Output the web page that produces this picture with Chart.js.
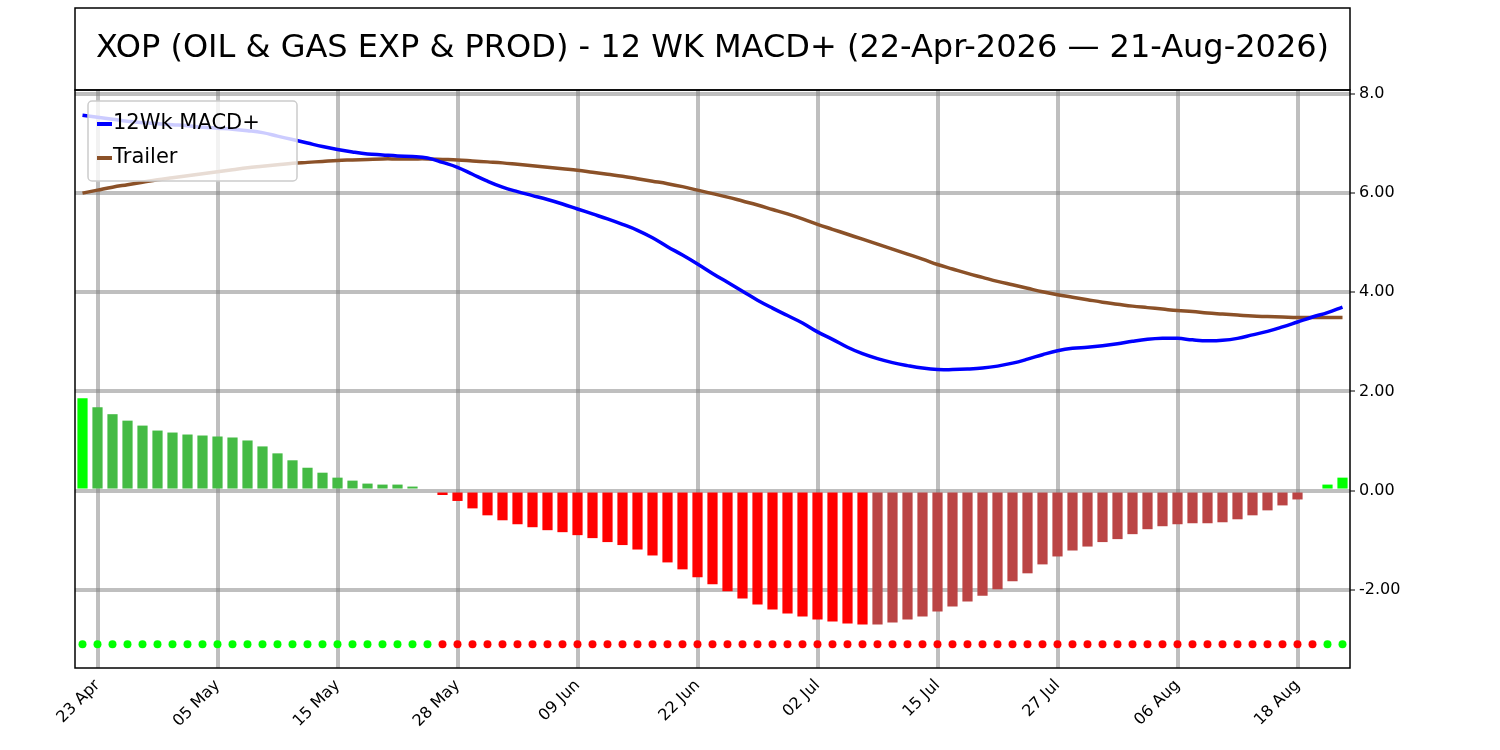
<!DOCTYPE html>
<html>
<head>
<meta charset="utf-8">
<script src="https://cdn.jsdelivr.net/npm/chart.js@4.4.1/dist/chart.umd.min.js"></script>
<style>
  html, body { margin: 0; padding: 0; background: #fff; }
  #wrap { width: 1500px; height: 750px; }
</style>
</head>
<body>
<div id="wrap"><canvas id="c"></canvas></div>
<script>
const title = 'XOP (OIL & GAS EXP & PROD) - 12 WK MACD+ (22-Apr-2026 \u2014 21-Aug-2026)';

const dates = [
  '22 Apr','23 Apr','24 Apr','27 Apr','28 Apr','29 Apr','30 Apr',
  '01 May','04 May','05 May','06 May','07 May','08 May','11 May','12 May','13 May','14 May','15 May',
  '18 May','19 May','20 May','21 May','22 May','26 May','27 May','28 May','29 May',
  '01 Jun','02 Jun','03 Jun','04 Jun','05 Jun','08 Jun','09 Jun','10 Jun','11 Jun','12 Jun',
  '15 Jun','16 Jun','17 Jun','18 Jun','22 Jun','23 Jun','24 Jun','25 Jun','26 Jun','29 Jun','30 Jun',
  '01 Jul','02 Jul','06 Jul','07 Jul','08 Jul','09 Jul','10 Jul','13 Jul','14 Jul','15 Jul','16 Jul',
  '17 Jul','20 Jul','21 Jul','22 Jul','23 Jul','24 Jul','27 Jul','28 Jul','29 Jul','30 Jul','31 Jul',
  '03 Aug','04 Aug','05 Aug','06 Aug','07 Aug','10 Aug','11 Aug','12 Aug','13 Aug','14 Aug',
  '17 Aug','18 Aug','19 Aug','20 Aug','21 Aug'
];

const macd = [
  7.57,7.53,7.49,7.45,7.42,7.40,7.38,7.36,7.33,7.31,7.29,7.26,7.22,7.15,7.08,7.01,6.94,6.88,
  6.83,6.79,6.77,6.75,6.74,6.71,6.62,6.52,6.38,6.24,6.12,6.03,5.95,5.87,5.78,5.68,5.58,5.48,
  5.37,5.25,5.10,4.92,4.75,4.57,4.38,4.20,4.02,3.84,3.68,3.53,3.38,3.20,3.05,2.89,2.76,2.66,
  2.58,2.52,2.47,2.44,2.44,2.45,2.47,2.51,2.57,2.65,2.74,2.82,2.87,2.89,2.92,2.96,3.01,3.05,
  3.07,3.07,3.04,3.02,3.03,3.07,3.14,3.21,3.30,3.40,3.50,3.59,3.70
];

const trailer = [
  6.00,6.06,6.12,6.17,6.22,6.27,6.31,6.35,6.39,6.43,6.47,6.51,6.54,6.57,6.60,6.62,6.64,6.66,
  6.67,6.68,6.69,6.69,6.69,6.69,6.68,6.67,6.65,6.63,6.61,6.58,6.55,6.52,6.49,6.46,6.42,6.38,
  6.34,6.29,6.24,6.19,6.13,6.06,5.99,5.92,5.84,5.76,5.67,5.58,5.48,5.37,5.27,5.17,5.07,4.97,
  4.87,4.77,4.67,4.56,4.47,4.38,4.30,4.22,4.15,4.08,4.01,3.95,3.90,3.85,3.80,3.76,3.72,3.69,
  3.66,3.63,3.61,3.58,3.56,3.54,3.52,3.51,3.50,3.49,3.49,3.49,3.49
];

const hist = [
  1.86,1.68,1.54,1.41,1.31,1.21,1.17,1.13,1.11,1.09,1.07,1.01,0.89,0.75,0.61,0.46,0.36,0.26,
  0.20,0.14,0.12,0.12,0.08,0.04,-0.09,-0.21,-0.36,-0.50,-0.60,-0.68,-0.74,-0.80,-0.84,-0.90,
  -0.96,-1.04,-1.10,-1.19,-1.31,-1.45,-1.59,-1.75,-1.89,-2.03,-2.18,-2.30,-2.40,-2.48,-2.54,
  -2.60,-2.64,-2.68,-2.70,-2.70,-2.66,-2.60,-2.54,-2.44,-2.34,-2.24,-2.12,-1.99,-1.83,-1.67,
  -1.49,-1.33,-1.21,-1.13,-1.04,-0.98,-0.88,-0.78,-0.72,-0.68,-0.66,-0.66,-0.64,-0.58,-0.50,
  -0.40,-0.30,-0.18,-0.04,0.12,0.26
];

// signal dots: 1 = bullish (green), 0 = bearish (red)
const signal = [
  1,1,1,1,1,1,1,1,1,1,1,1,1,1,1,1,1,1,1,1,1,1,1,1,
  0,0,0,0,0,0,0,0,0,0,0,0,0,0,0,0,0,0,0,0,0,0,0,0,0,0,0,0,0,0,0,0,0,0,0,
  0,0,0,0,0,0,0,0,0,0,0,0,0,0,0,0,0,0,0,0,0,0,0,0,1,1
];
const dotLevel = -3.1;
const yTicks = [-2, 0, 2, 4, 6, 8];

// histogram colours: bright when growing away from zero, dull when shrinking
const barColors = hist.map((v, i) => {
  const prev = i > 0 ? hist[i - 1] : 0;
  if (v >= 0) return (v > prev) ? '#00ff00' : '#44bb44';
  return (v < prev) ? '#ff0000' : '#bb4444';
});

const frame = {
  id: 'frame',
  afterDraw(chart) {
    const { ctx, chartArea: a } = chart;
    ctx.save();
    ctx.strokeStyle = '#000';
    ctx.lineWidth = 1.5;
    ctx.strokeRect(a.left, 8, a.right - a.left, a.top - 8);
    ctx.strokeRect(a.left, a.top, a.right - a.left, a.bottom - a.top);
    ctx.fillStyle = '#000';
    ctx.font = '32px "DejaVu Sans"';
    ctx.textAlign = 'center';
    ctx.textBaseline = 'middle';
    ctx.fillText(title, (a.left + a.right) / 2, 49);
    // legend
    const lx = a.left + 13, ly = a.top + 11, lw = 209, lh = 80;
    ctx.fillStyle = 'rgba(255,255,255,0.8)';
    ctx.strokeStyle = '#cccccc';
    ctx.lineWidth = 1.5;
    ctx.beginPath();
    ctx.roundRect(lx, ly, lw, lh, 4);
    ctx.fill();
    ctx.stroke();
    const items = [['12Wk MACD+', '#0000ff', 34], ['Trailer', '#8b5128', 68]];
    ctx.font = '21px "DejaVu Sans"';
    ctx.textAlign = 'left';
    items.forEach(([t, c, dy]) => {
      ctx.strokeStyle = c;
      ctx.lineWidth = 4;
      ctx.beginPath();
      ctx.moveTo(lx + 9, a.top + dy);
      ctx.lineTo(lx + 24, a.top + dy);
      ctx.stroke();
      ctx.fillStyle = '#000';
      ctx.fillText(t, lx + 25, a.top + dy);
    });
    ctx.restore();
  }
};

new Chart(document.getElementById('c'), {
  type: 'bar',
  data: {
    labels: dates,
    datasets: [
      {
        type: 'line',
        label: '12Wk MACD+',
        data: macd,
        borderColor: '#0000ff',
        borderWidth: 3.5,
        pointRadius: 0,
        tension: 0.4,
        order: 1
      },
      {
        type: 'line',
        label: 'Trailer',
        data: trailer,
        borderColor: '#8b5128',
        borderWidth: 3.5,
        pointRadius: 0,
        tension: 0.4,
        order: 2
      },
      {
        type: 'line',
        label: 'Signal',
        data: signal.map(() => dotLevel),
        showLine: false,
        pointRadius: 4,
        pointBorderWidth: 0,
        pointBackgroundColor: signal.map(s => s ? '#00ff00' : '#ff0000'),
        order: 3
      },
      {
        label: 'Histogram',
        data: hist,
        backgroundColor: barColors,
        barPercentage: 0.68,
        categoryPercentage: 1,
        order: 4
      }
    ]
  },
  options: {
    responsive: true,
    maintainAspectRatio: false,
    animation: false,
    layout: { padding: { top: 90, left: 75, right: 0, bottom: 0 } },
    plugins: { legend: { display: false }, tooltip: { enabled: false } },
    scales: {
      x: {
        offset: true,
        afterFit: axis => { axis.height = 82; },
        grid: {
          offset: false,
          color: ctx => (ctx.index % 8 === 1) ? 'rgba(128,128,128,0.5)' : 'rgba(0,0,0,0)',
          lineWidth: 4,
          drawTicks: false
        },
        border: { display: false },
        ticks: {
          autoSkip: false,
          maxRotation: 45,
          minRotation: 45,
          color: '#000',
          font: { family: 'DejaVu Sans', size: 16 },
          padding: 8,
          callback: (v, i) => (i % 8 === 1) ? dates[i] : ''
        }
      },
      y: {
        position: 'right',
        min: -3.58,
        max: 8.08,
        afterFit: axis => { axis.width = 150; },
        afterBuildTicks: axis => { axis.ticks = yTicks.map(v => ({ value: v })); },
        grid: { color: 'rgba(128,128,128,0.5)', lineWidth: 4, drawTicks: true, tickColor: '#000', tickLength: 5, tickWidth: 1 },
        border: { display: false },
        ticks: {
          color: '#000',
          font: { family: 'DejaVu Sans', size: 16 },
          padding: 4,
          callback: v => v === 8 ? '8.0' : v.toFixed(2)
        }
      }
    }
  },
  plugins: [frame]
});
</script>
</body>
</html>
